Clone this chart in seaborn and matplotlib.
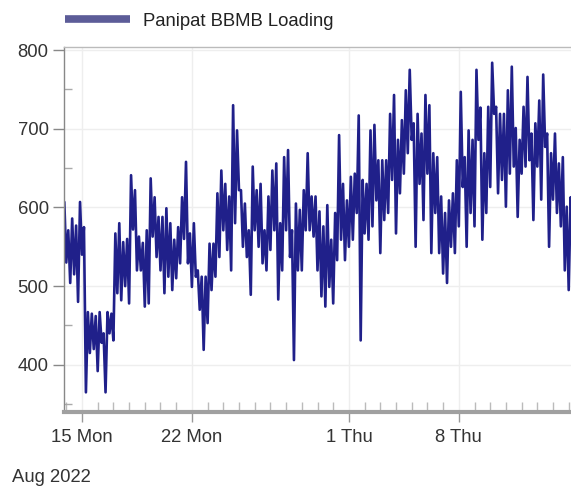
import matplotlib
matplotlib.use("Agg")
import matplotlib.pyplot as plt
import matplotlib.dates as mdates
from matplotlib.ticker import FixedLocator
import pandas as pd
import seaborn as sns

series_name = "Panipat BBMB Loading"
start_time = "2022-08-13 21:00"
sample_step = "3h"
# readings in time order (alternating local highs / lows every 3 h)
loading = [
    607, 530, 571, 504, 586, 515, 577, 480, 607, 540, 575, 365, 467, 415, 465, 420,
    462, 392, 467, 428, 440, 365, 467, 440, 465, 431, 567, 491, 580, 482, 556, 500,
    560, 478, 641, 572, 622, 520, 563, 520, 555, 474, 571, 478, 637, 563, 613, 537,
    588, 520, 588, 491, 599, 512, 580, 495, 559, 510, 575, 529, 613, 560, 658, 529,
    567, 499, 580, 512, 520, 470, 512, 419, 512, 453, 554, 495, 554, 512, 618, 537,
    647, 571, 630, 546, 614, 520, 730, 580, 698, 622, 622, 550, 605, 537, 571, 489,
    652, 571, 622, 550, 630, 529, 571, 520, 614, 546, 647, 571, 656, 483, 580, 520,
    664, 571, 673, 537, 571, 406, 605, 520, 597, 520, 622, 571, 669, 571, 614, 563,
    614, 520, 595, 487, 576, 474, 603, 499, 559, 478, 593, 533, 692, 559, 630, 533,
    609, 550, 639, 559, 643, 593, 717, 431, 635, 567, 630, 559, 698, 576, 705, 609,
    660, 542, 660, 584, 660, 593, 719, 635, 743, 567, 686, 618, 711, 643, 749, 669,
    775, 686, 707, 550, 719, 630, 694, 584, 743, 643, 730, 542, 669, 593, 664, 542,
    614, 516, 593, 504, 609, 550, 618, 542, 660, 576, 747, 626, 664, 550, 698, 593,
    686, 576, 775, 686, 727, 559, 669, 593, 728, 626, 784, 719, 728, 618, 719, 635,
    719, 601, 749, 643, 779, 652, 701, 588, 686, 643, 728, 652, 766, 660, 694, 584,
    707, 652, 736, 610, 769, 677, 694, 550, 669, 610, 694, 593, 656, 576, 664, 520,
    601, 495, 613, 559,
]
major_tick_dates = ["2022-08-15", "2022-08-22", "2022-09-01", "2022-09-08"]
major_tick_labels = ["15 Mon", "22 Mon", "1 Thu", "8 Thu"]
y_major = [400, 500, 600, 700, 800]
y_minor = [350, 450, 550, 650, 750]
x_start = "2022-08-13 20:30"
x_end = "2022-09-15 03:30"
year_label = "Aug 2022"

sns.set_theme(style="white")
plt.rcParams["font.family"] = ["Liberation Sans Narrow", "Liberation Sans", "DejaVu Sans"]

W, H = 571, 497
FS = 13.3
fig = plt.figure(figsize=(W / 100, H / 100), dpi=100)
ax = fig.add_axes([64 / W, 1 - 412 / H, 1 - 64 / W, (412 - 47) / H])

df = pd.DataFrame({
    "time": pd.date_range(start_time, periods=len(loading), freq=sample_step),
    "value": loading,
})
sns.lineplot(data=df, x="time", y="value", ax=ax, color="#20208a",
             linewidth=1.9, label=series_name)

ax.set_xlim(pd.Timestamp(x_start), pd.Timestamp(x_end))
ax.set_ylim(340, 804)
ax.set_xlabel("")
ax.set_ylabel("")

# y axis
ax.yaxis.set_major_locator(FixedLocator(y_major))
ax.yaxis.set_minor_locator(FixedLocator(y_minor))
ax.tick_params(axis="y", which="major", direction="out", length=8, width=1,
               color="#888888", labelsize=FS, labelcolor="#333333", pad=3, left=True)
ax.tick_params(axis="y", which="minor", direction="in", length=6, width=1,
               color="#aaaaaa", left=True)

# x axis
major_dates = [pd.Timestamp(d) for d in major_tick_dates]
ax.set_xticks(major_dates)
ax.set_xticklabels(major_tick_labels)
ax.xaxis.set_minor_locator(mdates.DayLocator())
ax.tick_params(axis="x", which="major", direction="out", length=7, width=1,
               color="#999999", labelsize=FS, labelcolor="#333333", pad=5, bottom=True)
ax.tick_params(axis="x", which="minor", direction="in", length=7, width=1,
               color="#bbbbbb", bottom=True)

ax.grid(True, which="major", color="#eeeeee", linewidth=1)
ax.set_axisbelow(True)

for side, sp in ax.spines.items():
    sp.set_visible(True)
ax.spines["left"].set_color("#888888")
ax.spines["left"].set_linewidth(1)
ax.spines["top"].set_color("#bbbbbb")
ax.spines["top"].set_linewidth(1)
ax.spines["right"].set_visible(False)
ax.spines["bottom"].set_color("#a0a0a0")
ax.spines["bottom"].set_linewidth(3)

leg = ax.legend(loc="center left", bbox_to_anchor=(65 / W, 1 - 21 / H),
                bbox_transform=fig.transFigure, frameon=False, fontsize=FS,
                handlelength=3.5, handletextpad=0.7, borderpad=0, borderaxespad=0)
for h in leg.get_lines():
    h.set_linewidth(5.5)
    h.set_color("#5c5c98")
    h.set_solid_capstyle("butt")
for t in leg.get_texts():
    t.set_color("#222222")

fig.text(12 / W, 1 - 477 / H, year_label, ha="left", va="center",
         fontsize=FS, color="#333333")

fig.savefig("out.png", dpi=100)
